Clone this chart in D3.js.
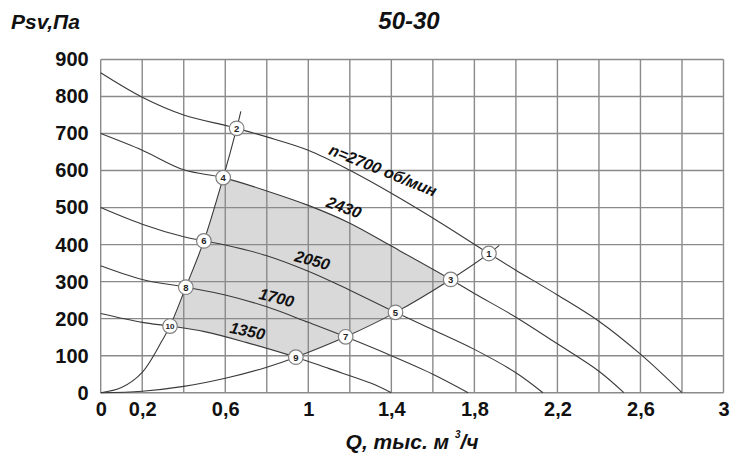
<!DOCTYPE html>
<html><head><meta charset="utf-8">
<script src="https://cdn.jsdelivr.net/npm/d3@7"></script>
<style>
html,body{margin:0;padding:0;background:#fff;}
svg{display:block;}
text{font-family:"Liberation Sans",Arial,sans-serif;}
</style></head>
<body>
<svg id="c" width="731" height="458"></svg>
<script>
// ---- data ----
const xTickLabels = [0, 0.2, 0.6, 1, 1.4, 1.8, 2.2, 2.6, 3];
const yTickLabels = [0, 100, 200, 300, 400, 500, 600, 700, 800, 900];
const gridQ = [0,0.2,0.4,0.6,0.8,1,1.2,1.4,1.6,1.8,2,2.2,2.4,2.6,2.8,3];

const speeds = ["2700", "2430", "2050", "1700", "1350"];
const q2700 = [0, 0.2, 0.4, 0.6, 0.655, 0.8, 1.0, 1.2, 1.4, 1.6, 1.87, 2.0, 2.2, 2.4, 2.6, 2.8];
const p2700 = [864, 798, 750, 722, 714, 691, 655, 601, 539, 472, 376, 331, 264, 193, 104, 0];
const q2430 = [0, 0.2, 0.4, 0.59, 0.8, 1.0, 1.2, 1.4, 1.686, 1.8, 2.0, 2.2, 2.4, 2.52];
const p2430 = [700, 655, 602, 581, 545, 506, 458, 396, 306, 268, 204, 132, 58, 0];
const q2050 = [0, 0.2, 0.4, 0.497, 0.6, 0.8, 1.0, 1.2, 1.42, 1.6, 1.8, 2.0, 2.13];
const p2050 = [500, 455, 421, 410, 399, 370, 328, 277, 217, 170, 117, 54, 0];
const q1700 = [0, 0.2, 0.41, 0.6, 0.8, 1.0, 1.18, 1.4, 1.6, 1.77];
const p1700 = [343, 306, 285, 264, 232, 190, 151, 100, 50, 0];
const q1350 = [0, 0.2, 0.334, 0.5, 0.7, 0.94, 1.1, 1.3, 1.4];
const p1350 = [214, 190, 180, 165, 136, 96, 65, 26, 0];

// system (network) curves
const qLeft  = [0, 0.1, 0.2, 0.3, 0.334, 0.41, 0.497, 0.59, 0.655, 0.675];
const pLeft  = [0, 14, 55, 145, 180, 285, 410, 581, 714, 760];
const qRight = [0, 0.2, 0.4, 0.6, 0.8, 0.94, 1.18, 1.42, 1.686, 1.87, 1.92];
const pRight = [0, 4, 17, 39, 69, 96, 151, 217, 306, 376, 398];

// operating points
const ptLabel = [1, 2, 3, 4, 5, 6, 7, 8, 9, 10];
const ptQ = [1.87, 0.655, 1.686, 0.59, 1.42, 0.497, 1.18, 0.41, 0.94, 0.334];
const ptP = [376, 714, 306, 581, 217, 410, 151, 285, 96, 180];

// curve labels (anchor in data space)
const lblText  = ["n=2700 об/мин", "2430", "2050", "1700", "1350"];
const lblQ     = [1.36, 1.172, 1.02, 0.847, 0.707];
const lblP     = [601, 501, 358, 257, 167];
const lblAngle = [22, 20, 15, 14, 12];

// ---- drawing ----
const svg = d3.select("#c");
const x = d3.scaleLinear().domain([0, 3]).range([100.7, 723.5]);
const y = d3.scaleLinear().domain([0, 900]).range([392.7, 59.5]);

const pts = (qs, ps) => qs.map((q, i) => [q, ps[i]]);
const line = d3.line().x(d => x(d[0])).y(d => y(d[1])).curve(d3.curveCatmullRom.alpha(0.5));

// segment of a curve between qa and qb, ordered from qa to qb
function seg(qs, ps, qa, qb) {
  const lo = Math.min(qa, qb) - 1e-9, hi = Math.max(qa, qb) + 1e-9;
  let s = pts(qs, ps).filter(d => d[0] >= lo && d[0] <= hi);
  if (qa > qb) s.reverse();
  return s;
}

// shaded working zone
const parts = [
  seg(q2430, p2430, 0.59, 1.686),
  seg(qRight, pRight, 1.686, 0.94),
  seg(q1350, p1350, 0.94, 0.334),
  seg(qLeft, pLeft, 0.334, 0.59)
];
let dFill = parts.map((p, i) => { const s = line(p); return i === 0 ? s : "L" + s.slice(1); }).join("") + "Z";
svg.append("path").attr("d", dFill).attr("fill", "#d9d9d9").attr("stroke", "none");

// grid
const g = svg.append("g").attr("stroke", "#8a8a8a").attr("stroke-width", 1.4);
g.selectAll("line.v").data(gridQ).join("line")
  .attr("x1", d => x(d)).attr("x2", d => x(d)).attr("y1", y(0)).attr("y2", y(900));
g.selectAll("line.h").data(yTickLabels).join("line")
  .attr("x1", x(0)).attr("x2", x(3)).attr("y1", d => y(d)).attr("y2", d => y(d));

// fan curves
const curves = [pts(q2700, p2700), pts(q2430, p2430), pts(q2050, p2050), pts(q1700, p1700), pts(q1350, p1350)];
svg.append("g").selectAll("path").data(curves).join("path")
  .attr("d", line).attr("fill", "none").attr("stroke", "#3a3a3a").attr("stroke-width", 1.1);

// system curves
svg.append("g").selectAll("path").data([pts(qLeft, pLeft), pts(qRight, pRight)]).join("path")
  .attr("d", line).attr("fill", "none").attr("stroke", "#3a3a3a").attr("stroke-width", 1.1);

// curve labels
svg.append("g").selectAll("text").data(lblText).join("text")
  .attr("transform", (d, i) => `translate(${x(lblQ[i])},${y(lblP[i])}) rotate(${lblAngle[i]})`)
  .attr("text-anchor", "middle").attr("dy", "0.35em")
  .attr("font-size", 16).attr("font-weight", "bold").attr("font-style", "italic")
  .attr("fill", "#111").text(d => d);

// operating points
const pg = svg.append("g").selectAll("g").data(ptLabel).join("g")
  .attr("transform", (d, i) => `translate(${x(ptQ[i])},${y(ptP[i])})`);
pg.append("circle").attr("r", 7.3).attr("fill", "#fff").attr("stroke", "#808080").attr("stroke-width", 1.2);
pg.append("text").attr("text-anchor", "middle").attr("dy", "0.36em")
  .attr("font-size", d => d === 10 ? 8 : 9.5).attr("font-weight", "bold").attr("fill", "#222")
  .text(d => d);

// axes
const fmt = d => String(d).replace(".", ",");
const ax = svg.append("g").attr("transform", `translate(0,${y(0)})`)
  .call(d3.axisBottom(x).tickValues(xTickLabels).tickFormat(fmt).tickSize(0).tickPadding(9));
const ay = svg.append("g").attr("transform", `translate(${x(0)},0)`)
  .call(d3.axisLeft(y).tickValues(yTickLabels).tickSize(0).tickPadding(12));
[ax, ay].forEach(a => {
  a.select(".domain").remove();
  a.selectAll("text").attr("font-family", '"Liberation Sans",Arial,sans-serif')
    .attr("font-size", 20).attr("font-weight", "bold").attr("fill", "#111");
});

// titles
svg.append("text").attr("x", 409).attr("y", 29).attr("text-anchor", "middle")
  .attr("font-size", 24).attr("font-weight", "bold").attr("font-style", "italic").attr("fill", "#111")
  .text("50-30");
svg.append("text").attr("x", 11).attr("y", 29)
  .attr("font-size", 21).attr("font-weight", "bold").attr("font-style", "italic").attr("fill", "#111")
  .text("Psv,Па");
const xt = svg.append("text").attr("x", x(1.5)).attr("y", 449).attr("text-anchor", "middle")
  .attr("font-size", 21).attr("font-weight", "bold").attr("font-style", "italic").attr("fill", "#111");
xt.append("tspan").text("Q, тыс. м ");
xt.append("tspan").attr("font-size", 10).attr("dy", -11).text("3");
xt.append("tspan").attr("dy", 11).text("/ч");
</script>
</body></html>
